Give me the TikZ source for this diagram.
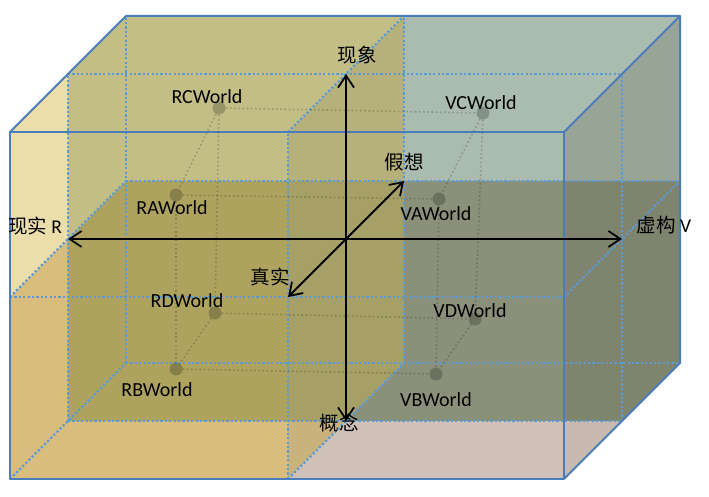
\documentclass[tikz,border=0pt]{standalone}
\usepackage{fontspec}
\setmainfont{Carlito}
\newfontfamily\cjkfont{Noto Sans CJK SC}
\usepackage{tikz}
\usetikzlibrary{arrows.meta}
\definecolor{edgeblue}{RGB}{74,126,187}
\definecolor{gridblue}{RGB}{91,155,213}
\definecolor{creamR}{RGB}{235,222,170}
\definecolor{tanR}{RGB}{216,189,126}
\definecolor{oliveR}{RGB}{194,190,134}
\definecolor{oliveside}{RGB}{182,177,123}
\definecolor{darkR}{RGB}{173,163,95}
\definecolor{darkside}{RGB}{166,159,102}
\definecolor{tangrey}{RGB}{201,178,124}
\definecolor{greyV}{RGB}{170,187,175}
\definecolor{greyVside}{RGB}{151,164,150}
\definecolor{darkV}{RGB}{139,144,123}
\definecolor{darkVside}{RGB}{127,132,110}
\definecolor{pinkV}{RGB}{207,193,184}
\definecolor{pinkVside}{RGB}{199,185,175}

\begin{document}
\begin{tikzpicture}[x=1pt,y=1pt,
  grid line/.style={gridblue,line width=2.2pt,dash pattern=on 2.2pt off 2.2pt},
  box edge/.style={edgeblue,line width=2pt,line join=round},
  axis/.style={line width=1.8pt,-{Straight Barb[length=12pt,width=16pt]}},
  world/.style={circle,fill=black,fill opacity=.22,minimum size=13pt,inner sep=0pt},
  world link/.style={black,draw opacity=.2,line width=1.6pt,dash pattern=on 1.6pt off 2.6pt},
  world text/.style={font=\fontsize{20}{24}\selectfont,inner sep=0pt},
  axis text/.style={font=\fontsize{19.5}{23}\selectfont,inner sep=0pt}]
\useasboundingbox (0,0) rectangle (709,496);
% grid points g<i><j><k>: i = left/mid/right, j = bottom/mid/top, k = front/mid/back
\foreach \i/\x in {0/10,1/288,2/564}
  \foreach \j/\y in {0/17,1/199,2/364}
    \foreach \k in {0,1,2}
      \coordinate (g\i\j\k) at ({\x+58*\k},{\y+58*\k});
\coordinate (mfront) at (g120 |- g012);
\coordinate (mbot) at (g100 |- g001);
\coordinate (rmid) at (g220 |- g212);
\coordinate (rbot) at (g200 |- g201);

% coloured regions
\fill[creamR] (g020) -- (g021) -- (g011) -- (g010) -- cycle;
\fill[tanR] (g010) -- (g011) -- (g001) -- (mbot) -- (g100) -- (g000) -- cycle;
\fill[oliveR] (g021) -- (g022) -- (g122) -- (g120) -- (mfront) -- (g012) -- (g011) -- cycle;
\fill[oliveside] (g120) -- (g122) -- (g112) -- (mfront) -- cycle;
\fill[darkR] (g011) -- (g012) -- (mfront) -- (mbot) -- (g001) -- cycle;
\fill[darkside] (mfront) -- (g112) -- (g102) -- (g101) -- (mbot) -- cycle;
\fill[tangrey] (mbot) -- (g101) -- (g100) -- cycle;
\fill[greyV] (g122) -- (g222) -- (g220) -- (rmid) -- (g112) -- cycle;
\fill[greyVside] (g220) -- (g222) -- (g212) -- (rmid) -- cycle;
\fill[darkV] (g112) -- (rmid) -- (rbot) -- (g101) -- (g102) -- cycle;
\fill[darkVside] (rmid) -- (g212) -- (g202) -- (g201) -- (rbot) -- cycle;
\fill[pinkV] (g101) -- (rbot) -- (g200) -- (g100) -- cycle;
\fill[pinkVside] (rbot) -- (g201) -- (g200) -- cycle;

% dotted grid
\foreach \j/\k in {2/1,1/0,1/2,0/1,0/2}
  \draw[grid line] (g0\j\k) -- (g2\j\k);
\foreach \i/\k in {0/1,0/2,1/0,1/2,2/1}
  \draw[grid line] (g\i0\k) -- (g\i2\k);
\foreach \i/\j in {0/1,0/0,1/2,1/0,2/1}
  \draw[grid line] (g\i\j0) -- (g\i\j2);

% outer edges
\draw[box edge] (g020) -- (g220) -- (g200) -- (g000) -- cycle;
\draw[box edge] (g020) -- (g022) -- (g222) -- (g220);
\draw[box edge] (g222) -- (g202) -- (g200);

% worlds
\node[world] (rc) at (219,388) {};
\node[world] (ra) at (176,301) {};
\node[world] (rd) at (215,183) {};
\node[world] (rb) at (176,127) {};
\node[world] (vc) at (483,383) {};
\node[world] (va) at (439,297) {};
\node[world] (vd) at (475,177) {};
\node[world] (vb) at (436,122) {};
\foreach \a/\b in {rc/ra,rc/vc,rc/rd,ra/va,ra/rb,vc/va,vc/vd,va/vb,rd/vd,rd/rb,vd/vb,rb/vb}
  \draw[world link] (\a) -- (\b);
\node[world text] (rc-text) at (207,399) {RCWorld};
\node[world text] (ra-text) at (172,288) {RAWorld};
\node[world text] (rd-text) at (187,195) {RDWorld};
\node[world text] (rb-text) at (157,106) {RBWorld};
\node[world text] (vc-text) at (481,393) {VCWorld};
\node[world text] (va-text) at (436,282) {VAWorld};
\node[world text] (vd-text) at (470,185) {VDWorld};
\node[world text] (vb-text) at (436,96) {VBWorld};

% axes
\coordinate (o) at (g111);
\foreach \t in {g121,g101,g011,g211,g110,g112}
  \draw[axis] (o) -- (\t);
\node[axis text] (xianxiang) at (357,441) {\cjkfont 现象};
\node[axis text] (gainian) at (339,73) {\cjkfont 概念};
\node[axis text] (xianshi) at (35,270) {{\cjkfont 现实} R};
\node[axis text] (xugou) at (664,271) {{\cjkfont 虚构} V};
\node[axis text] (zhenshi) at (270,219) {\cjkfont 真实};
\node[axis text] (jiaxiang) at (404,334) {\cjkfont 假想};
\end{tikzpicture}
\end{document}
